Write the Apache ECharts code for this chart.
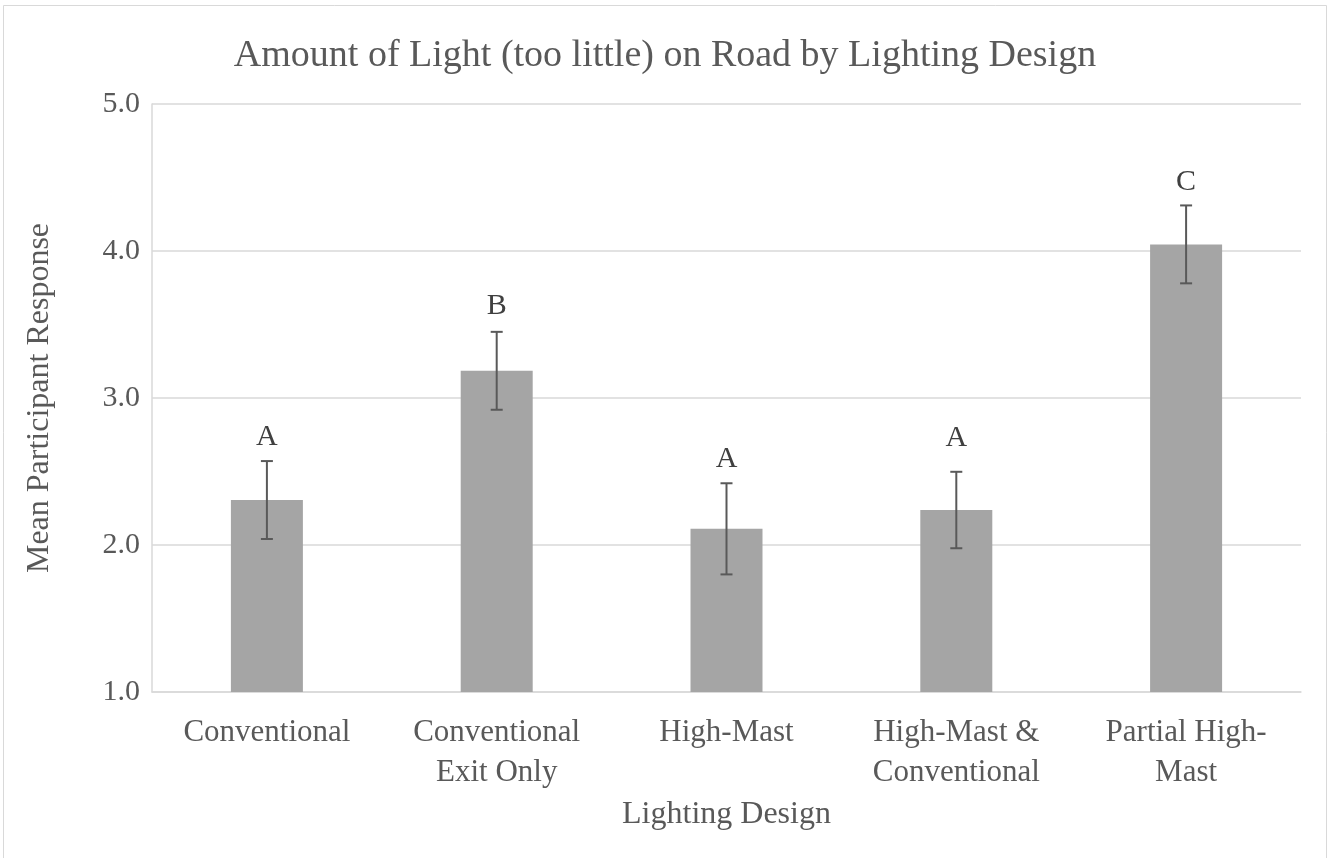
<!DOCTYPE html>
<html>
<head>
<meta charset="utf-8">
<style>
  html, body { margin: 0; padding: 0; background: #ffffff; }
  #chart { width: 1330px; height: 858px; }
</style>
<script src="https://cdn.jsdelivr.net/npm/echarts@6/dist/echarts.min.js"></script>
</head>
<body>
<div id="chart"></div>
<script>
// Mean participant response per lighting design, with error bars and group letters
const categories = ['Conventional', 'Conventional\nExit Only', 'High-Mast', 'High-Mast &\nConventional', 'Partial High-\nMast'];
const means = [2.306, 3.185, 2.11, 2.238, 4.045];
const errors = [0.265, 0.265, 0.31, 0.26, 0.265];
const groupLetters = ['A', 'B', 'A', 'A', 'C'];
// height (in response units) at which each group letter is centred
const letterLevels = [2.737, 3.628, 2.587, 2.73, 4.466];
const yTicks = [1, 2, 3, 4, 5];

const FONT = '"Liberation Serif", "Times New Roman", serif';
const TEXT = '#595959';

const errorData = means.map((m, i) => [i, m - errors[i], m + errors[i], groupLetters[i], letterLevels[i]]);

const chart = echarts.init(document.getElementById('chart'));
chart.setOption({
  animation: false,
  backgroundColor: '#ffffff',
  graphic: [{
    type: 'rect',
    shape: { x: 3.5, y: 5.5, width: 1323, height: 860 },
    style: { fill: 'none', stroke: '#D9D9D9', lineWidth: 1 },
    silent: true
  }],
  title: {
    text: 'Amount of Light (too little) on Road by Lighting Design',
    left: 'center',
    top: 32,
    textStyle: { fontFamily: FONT, fontSize: 38, fontWeight: 'normal', color: TEXT }
  },
  grid: { left: 152, right: 29, top: 104, bottom: 166 },
  xAxis: {
    type: 'category',
    data: categories,
    name: 'Lighting Design',
    nameLocation: 'middle',
    nameGap: 107,
    nameTextStyle: { fontFamily: FONT, fontSize: 32, color: TEXT },
    axisLine: { lineStyle: { color: '#D9D9D9', width: 1.5 } },
    axisTick: { show: false },
    axisLabel: { fontFamily: FONT, fontSize: 31, color: TEXT, margin: 21, lineHeight: 40, interval: 0 }
  },
  yAxis: {
    type: 'value',
    min: yTicks[0],
    max: yTicks[yTicks.length - 1],
    interval: 1,
    name: 'Mean Participant Response',
    nameLocation: 'middle',
    nameGap: 96,
    nameTextStyle: { fontFamily: FONT, fontSize: 32, color: TEXT },
    axisLine: { show: true, lineStyle: { color: '#D9D9D9', width: 1.5 } },
    axisTick: { show: false },
    axisLabel: {
      fontFamily: FONT, fontSize: 30, color: TEXT, margin: 12,
      formatter: v => v.toFixed(1)
    },
    splitLine: { lineStyle: { color: '#D9D9D9', width: 1.5 } }
  },
  series: [
    {
      type: 'bar',
      data: means,
      barWidth: 72,
      itemStyle: { color: '#A5A5A5' },
      z: 2
    },
    {
      type: 'custom',
      data: errorData,
      z: 3,
      renderItem: function (params, api) {
        const i = api.value(0);
        const x = api.coord([i, api.value(1)])[0];
        const yLo = api.coord([i, api.value(1)])[1];
        const yHi = api.coord([i, api.value(2)])[1];
        const yLetter = api.coord([i, api.value(4)])[1];
        const half = 6;
        const style = { stroke: '#595959', lineWidth: 2 };
        return {
          type: 'group',
          children: [
            { type: 'line', shape: { x1: x, y1: yLo, x2: x, y2: yHi }, style },
            { type: 'line', shape: { x1: x - half, y1: yLo, x2: x + half, y2: yLo }, style },
            { type: 'line', shape: { x1: x - half, y1: yHi, x2: x + half, y2: yHi }, style },
            {
              type: 'text',
              x: x,
              y: yLetter,
              style: {
                text: api.value(3),
                fontFamily: FONT,
                fontSize: 30,
                fill: '#404040',
                align: 'center',
                verticalAlign: 'middle'
              }
            }
          ]
        };
      }
    }
  ]
});
</script>
</body>
</html>
